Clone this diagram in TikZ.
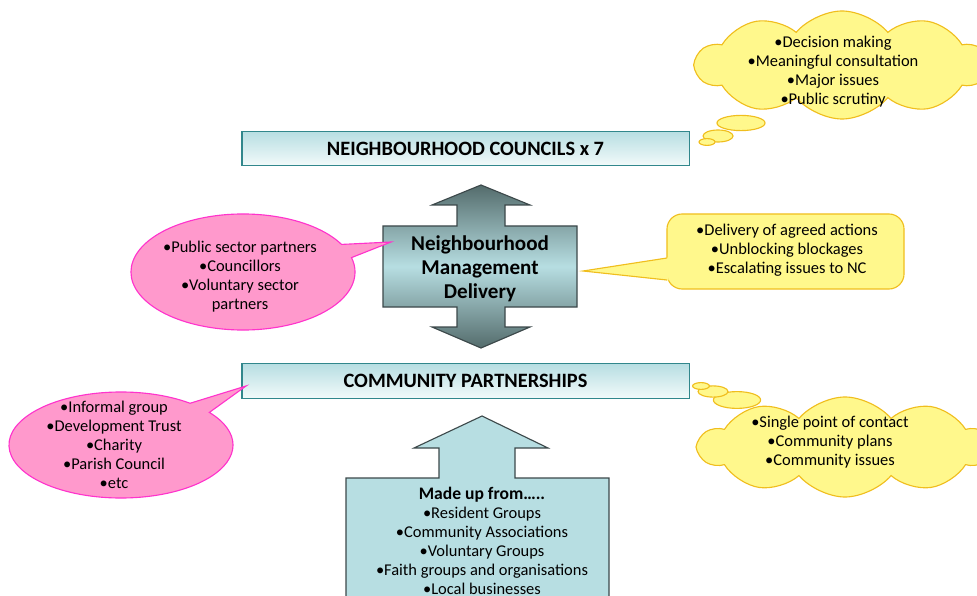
\documentclass[tikz,border=0pt]{standalone}
\usepackage{fontspec}
\setmainfont{Carlito}
\usepackage{tikz}
\usetikzlibrary{shapes.callouts,shapes.symbols,shapes.geometric}
\definecolor{tealfill}{RGB}{183,222,226}
\definecolor{tealpale}{RGB}{242,250,250}
\definecolor{tealline}{RGB}{49,135,140}
\definecolor{arrowdark}{RGB}{84,108,108}
\definecolor{arrowline}{RGB}{60,72,74}
\definecolor{pinkfill}{RGB}{255,153,204}
\definecolor{pinkline}{RGB}{255,51,204}
\definecolor{yellowfill}{RGB}{255,248,140}
\definecolor{yellowline}{RGB}{240,190,30}
\tikzstyle{headbox}=[draw=tealline, line width=0.8pt, top color=tealfill, bottom color=tealpale, minimum width=11.175cm, minimum height=0.86cm, font=\fontsize{14.5}{17}\selectfont\bfseries]
\tikzstyle{bullettext}=[align=center, inner sep=0pt, font=\fontsize{11.7}{13.5}\selectfont]
\tikzstyle{pinkcallout}=[ellipse callout, draw=pinkline, fill=pinkfill, line width=0.8pt, inner sep=0pt, callout pointer arc=14]
\tikzstyle{yellowcloud}=[cloud, draw=yellowline, fill=yellowfill, line width=0.8pt, cloud puffs=10, cloud puff arc=100, cloud ignores aspect, inner sep=0pt]
\tikzstyle{bubble}=[ellipse, draw=yellowline, fill=yellowfill, line width=0.8pt, inner sep=0pt]
\tikzstyle{yellowbox}=[draw=yellowline, fill=yellowfill, line width=0.8pt, rounded corners=0.38cm, minimum width=5.925cm, minimum height=1.875cm]

\begin{document}
\begin{tikzpicture}[x=0.025cm, y=-0.025cm]
	\useasboundingbox (0, 0) rectangle (977, 596);
	\begin{scope}
		% the two bands
		\node (nc) at (465.5, 148.5)[headbox] {NEIGHBOURHOOD COUNCILS x 7};
		\node (cp) at (465.5, 381)[headbox] {COMMUNITY PARTNERSHIPS};

		% double arrow in the middle
		\path [draw=arrowline, line width=0.8pt, top color=arrowdark, bottom color=arrowdark, middle color=tealfill]
			(481, 185) -- (530, 205) -- (505, 205) -- (505, 226) -- (577, 226) -- (577, 307)
			-- (505, 307) -- (505, 327) -- (530, 327) -- (481, 348) -- (432, 327) -- (457, 327)
			-- (457, 307) -- (383, 307) -- (383, 226) -- (457, 226) -- (457, 205) -- (432, 205) -- cycle;
		\node (nmd) at (480, 269)[align=center, font=\fontsize{15}{17}\selectfont\bfseries] {Neighbourhood\\Management\\Delivery};

		% arrow up from the groups
		\path [draw=arrowline, line width=0.8pt, fill=tealfill]
			(482, 416) -- (548, 448) -- (515, 448) -- (515, 478) -- (609, 478) -- (609, 620)
			-- (346, 620) -- (346, 478) -- (439, 478) -- (439, 448) -- (414, 448) -- cycle;
		\node (made) at (482, 541)[bullettext] {{\fontsize{12.5}{13.5}\selectfont\bfseries Made up from…..}\\•Resident Groups\\•Community Associations\\•Voluntary Groups\\•Faith groups and organisations\\•Local businesses};
	\end{scope}
	\begin{scope}
		% callouts
		\coordinate (partnerstip) at (391, 242);
		\coordinate (orgstip) at (246, 386);
		\coordinate (delivtip) at (583, 271);

		\node (partners) at (243, 272)[pinkcallout, minimum width=5.6cm, minimum height=2.9cm, callout absolute pointer={(partnerstip)}] {};
		\node (partnerstext) at (240, 277)[bullettext] {•Public sector partners\\•Councillors\\•Voluntary sector\\partners};

		\node (orgs) at (121, 445)[pinkcallout, minimum width=5.6cm, minimum height=2.65cm, callout absolute pointer={(orgstip)}] {};
		\node (orgstext) at (114, 445)[bullettext] {•Informal group\\•Development Trust\\•Charity\\•Parish Council\\•etc};

		% thought clouds
		\node (ideas) at (842, 65)[yellowcloud, minimum width=7.3cm, minimum height=2.7cm] {};
		\node (ideasb1) at (741, 123)[bubble, minimum width=1.2cm, minimum height=0.38cm] {};
		\node (ideasb2) at (718, 136)[bubble, minimum width=0.75cm, minimum height=0.3cm] {};
		\node (ideasb3) at (707, 142)[bubble, minimum width=0.4cm, minimum height=0.17cm] {};
		\node (ideastext) at (833, 72)[bullettext] {•Decision making\\•Meaningful consultation\\•Major issues\\•Public scrutiny};

		\node (contact) at (845, 447)[yellowcloud, minimum width=7.3cm, minimum height=2.5cm] {};
		\node (contactb1) at (737, 400)[bubble, minimum width=1.18cm, minimum height=0.42cm] {};
		\node (contactb2) at (713, 391.5)[bubble, minimum width=0.75cm, minimum height=0.28cm] {};
		\node (contactb3) at (701, 386)[bubble, minimum width=0.42cm, minimum height=0.17cm] {};
		\node (contacttext) at (830, 442)[bullettext] {•Single point of contact\\•Community plans\\•Community issues};

		\node (deliv) at (785.5, 251.5)[yellowbox] {};
		\fill [yellowfill] (delivtip) -- (668.5, 257.5) -- (668.5, 280.5) -- cycle;
		\draw [yellowline, line width=0.8pt] (667, 258) -- (delivtip) -- (667, 280);
		\node (delivtext) at (787, 250)[bullettext] {•Delivery of agreed actions\\•Unblocking blockages\\•Escalating issues to NC};
	\end{scope}
\end{tikzpicture}
\end{document}
